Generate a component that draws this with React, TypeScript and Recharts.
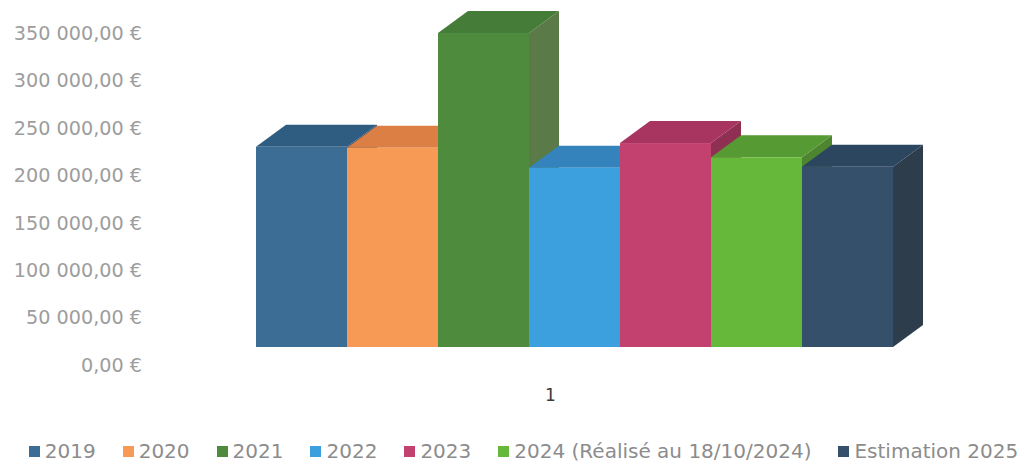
import { BarChart, Bar, XAxis, YAxis, Legend } from "recharts"

// one category on the x axis, seven series (one per year)
const categories = ["1"]
const seriesNames = [
  "2019",
  "2020",
  "2021",
  "2022",
  "2023",
  "2024 (Réalisé au 18/10/2024)",
  "Estimation 2025",
]
const seriesValues = [211000, 210000, 331000, 189000, 215000, 200000, 190000]
const yTicks = [0, 50000, 100000, 150000, 200000, 250000, 300000, 350000]

// face colours: front / top / right side
const FRONT = ["#3b6d95", "#f69a55", "#4e8b3d", "#3ba0dd", "#c3416f", "#65b83a", "#34506b"]
const TOP = ["#2f5d82", "#dc7f44", "#457c37", "#3583bd", "#a8355f", "#559a32", "#2c4660"]
const SIDE = ["#2c4f6e", "#c8733f", "#5a7a48", "#2f74a5", "#8f2f52", "#4d8530", "#2e3d4c"]

// 3D look: depth of each box and how far the boxes sit behind the floor's front edge
const DEPTH_X = 30
const DEPTH_Y = 22
const GAP_X = 24
const GAP_Y = 18

const FONT = "'DejaVu Sans', 'Liberation Sans', Arial, sans-serif"

const data = categories.map((cat) => {
  const row: Record<string, string | number> = { cat }
  seriesNames.forEach((_, i) => {
    row[`s${i}`] = seriesValues[i]
  })
  return row
})

function euro(v: number) {
  const [int, dec] = v.toFixed(2).split(".")
  return int.replace(/\B(?=(\d{3})+(?!\d))/g, " ") + "," + dec + " €"
}

function Box3D(props: any) {
  const { x, y, width, height, k } = props
  if (width == null || height == null) return null
  const fx = x + GAP_X
  const fy = y - GAP_Y
  const w = width
  const h = height
  const top = `${fx},${fy} ${fx + DEPTH_X},${fy - DEPTH_Y} ${fx + w + DEPTH_X},${fy - DEPTH_Y} ${fx + w},${fy}`
  const side = `${fx + w},${fy} ${fx + w + DEPTH_X},${fy - DEPTH_Y} ${fx + w + DEPTH_X},${fy + h - DEPTH_Y} ${fx + w},${fy + h}`
  return (
    <g>
      <polygon points={side} fill={SIDE[k]} />
      <polygon points={top} fill={TOP[k]} />
      <rect x={fx} y={fy} width={w} height={h} fill={FRONT[k]} />
    </g>
  )
}

function LegendRow({ payload }: any) {
  const items = payload ?? []
  return (
    <div style={{
      width: 1023,
      height: 30,
      display: "flex",
      justifyContent: "center",
      alignItems: "flex-end",
      paddingLeft: 24,
      boxSizing: "border-box",
      fontFamily: FONT,
      fontSize: 20,
      lineHeight: "20px",
      color: "#8c8c8c",
    }}>
      {items.map((it: any, i: number) => (
        <div key={`leg-${i}`} style={{ display: "flex", alignItems: "center", marginRight: i < items.length - 1 ? 27 : 0 }}>
          <span style={{ width: 11, height: 11, background: it.color, marginRight: 5, display: "inline-block" }} />
          <span style={{ whiteSpace: "nowrap" }}>{it.value}</span>
        </div>
      ))}
    </div>
  )
}

export default function App() {
  return (
    <div style={{ position: "absolute", left: 0, top: 0, width: 1023, height: 461, background: "#fff" }}>
      <BarChart
        width={1023}
        height={461}
        data={data}
        margin={{ top: 33, right: 72, bottom: 0, left: 0 }}
        barCategoryGap={82}
        barGap={0}
      >
        <XAxis
          dataKey="cat"
          height={66}
          axisLine={false}
          tickLine={false}
          tickSize={0}
          tickMargin={24}
          tick={{ fontSize: 17, fill: "#3a3a3a", fontFamily: FONT }}
        />
        <YAxis
          type="number"
          domain={[0, 350000]}
          ticks={yTicks}
          width={150}
          axisLine={false}
          tickLine={false}
          tickSize={0}
          tickMargin={8}
          tickFormatter={euro}
          tick={{ fontSize: 19.2, fill: "#9d9d9d", fontFamily: FONT }}
        />
        <Legend
          verticalAlign="bottom"
          wrapperStyle={{ left: 0, width: 1023 }}
          content={<LegendRow />}
        />
        {seriesNames.map((name, i) => (
          <Bar
            key={name}
            dataKey={`s${i}`}
            name={name}
            fill={FRONT[i]}
            isAnimationActive={false}
            shape={(p: any) => <Box3D {...p} k={i} />}
          />
        ))}
      </BarChart>
    </div>
  )
}
